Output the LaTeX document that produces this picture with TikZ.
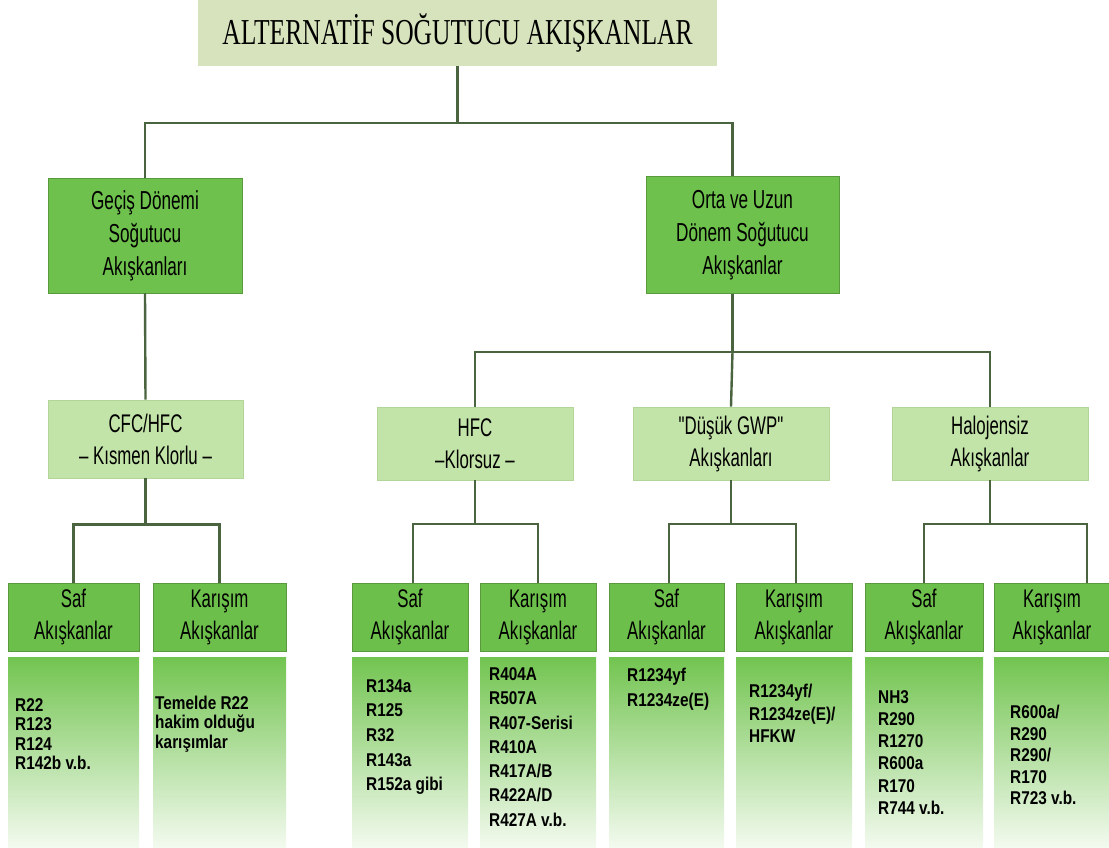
\documentclass[tikz,border=0pt]{standalone}
\usepackage{fontspec}
\setmainfont{Liberation Serif}
\newfontfamily\ttlfont{Liberation Serif}[FakeStretch=0.70]
\newfontfamily\hdfont{Liberation Sans}[FakeStretch=0.66]
\newfontfamily\bdfont{Liberation Sans}[FakeStretch=0.83]
\definecolor{titlefill}{HTML}{D7E3BC}
\definecolor{catfill}{HTML}{6EC14C}
\definecolor{catdraw}{HTML}{5A9A3E}
\definecolor{subfill}{HTML}{C3E4A9}
\definecolor{subdraw}{HTML}{B2D699}
\definecolor{headfill}{HTML}{6DBF4B}
\definecolor{headdraw}{HTML}{5A993D}
\definecolor{bodytop}{HTML}{72C450}
\definecolor{bodybot}{HTML}{F3FAEF}
\definecolor{conncol}{HTML}{4A6440}
\tikzset{
  titlebox/.style={fill=titlefill, inner sep=0pt, minimum width=519pt, minimum height=66pt,
    font=\ttlfont\fontsize{36.5}{40}\selectfont},
  catbox/.style={draw=catdraw, line width=0.8pt, fill=catfill, inner sep=0pt, align=center,
    font=\hdfont\fontsize{26}{33}\selectfont},
  subbox/.style={draw=subdraw, line width=0.6pt, fill=subfill, inner sep=0pt, align=center,
    font=\hdfont\fontsize{25.5}{32}\selectfont},
  leafhead/.style={draw=headdraw, line width=0.8pt, fill=headfill, inner sep=0pt, align=center,
    minimum height=68pt, font=\hdfont\fontsize{25.5}{32}\selectfont},
  leafbody/.style={top color=bodytop, bottom color=bodybot, draw=none, inner sep=0pt,
    minimum height=190pt},
  bodytext/.style={anchor=west, align=left, inner sep=0pt, font=\bdfont\bfseries\fontsize{18.5}{#1}\selectfont},
  conn/.style={draw=conncol, line width=2.4pt}
}
\begin{document}
\begin{tikzpicture}[x=1pt,y=-1pt]
\useasboundingbox (0,0) rectangle (1109,847);
% title
\node[titlebox] (title) at (457.5,33) {ALTERNATİF SOĞUTUCU AKIŞKANLAR};
% level 2
\node[catbox, minimum width=194pt, minimum height=115pt] (g2l) at (145,235.5) {Geçiş Dönemi\\Soğutucu\\Akışkanları};
\node[catbox, minimum width=193pt, minimum height=117pt] (g2r) at (742.5,235) {Orta ve Uzun\\Dönem Soğutucu\\Akışkanlar};
% level 3
\node[subbox, minimum width=195pt, minimum height=78pt] (cfc) at (145.5,439) {CFC/HFC\\– Kısmen Klorlu –};
\node[subbox, minimum width=196pt, minimum height=73pt] (hfc) at (475,443.5) {HFC\\–Klorsuz –};
\node[subbox, minimum width=196pt, minimum height=73pt] (dgwp) at (731,443.5) {"Düşük GWP"\\Akışkanları};
\node[subbox, minimum width=196pt, minimum height=73pt] (halo) at (990,443.5) {Halojensiz\\Akışkanlar};
% leaf headers
\node[leafhead, minimum width=131pt] (lsafh) at (73.5,617) {Saf\\Akışkanlar};
\node[leafhead, minimum width=133pt] (lkarh) at (219.5,617) {Karışım\\Akışkanlar};
\node[leafhead, minimum width=116pt] (hsafh) at (410,617) {Saf\\Akışkanlar};
\node[leafhead, minimum width=116pt] (hkarh) at (538,617) {Karışım\\Akışkanlar};
\node[leafhead, minimum width=115pt] (dsafh) at (666.5,617) {Saf\\Akışkanlar};
\node[leafhead, minimum width=116pt] (dkarh) at (794,617) {Karışım\\Akışkanlar};
\node[leafhead, minimum width=118pt] (hasafh) at (924,617) {Saf\\Akışkanlar};
\node[leafhead, minimum width=116pt] (hakarh) at (1052,617) {Karışım\\Akışkanlar};
% leaf bodies
\node[leafbody, minimum width=131pt] (lsafb) at (73.5,752) {};
\node[leafbody, minimum width=133pt] (lkarb) at (219.5,752) {};
\node[leafbody, minimum width=116pt] (hsafb) at (410,752) {};
\node[leafbody, minimum width=116pt] (hkarb) at (538,752) {};
\node[leafbody, minimum width=115pt] (dsafb) at (666.5,752) {};
\node[leafbody, minimum width=116pt] (dkarb) at (794,752) {};
\node[leafbody, minimum width=118pt] (hasafb) at (924,752) {};
\node[leafbody, minimum width=116pt] (hakarb) at (1052,752) {};
% body texts
\node[bodytext=19.5] (lsaft) at (15,734) {R22\\R123\\R124\\R142b v.b.};
\node[bodytext=19.5] (lkart) at (155,724) {Temelde R22\\hakim olduğu\\karışımlar};
\node[bodytext=24.6] (hsaft) at (366,737) {R134a\\R125\\R32\\R143a\\R152a gibi};
\node[bodytext=24.3] (hkart) at (489,747) {R404A\\R507A\\R407-Serisi\\R410A\\R417A/B\\R422A/D\\R427A v.b.};
\node[bodytext=25] (dsaft) at (627,689) {R1234yf\\R1234ze(E)};
\node[bodytext=22.5] (dkart) at (749,713.5) {R1234yf/\\R1234ze(E)/\\HFKW};
\node[bodytext=22.2] (hasaft) at (878,752.5) {NH3\\R290\\R1270\\R600a\\R170\\R744 v.b.};
\node[bodytext=21.5] (hakart) at (1010,755) {R600a/\\R290\\R290/\\R170\\R723 v.b.};
% connectors
\draw[conn] (title.south) -- ++(0,57) coordinate (j0);
\draw[conn] (g2l.north) |- (j0) -| ([xshift=-10pt]g2r.north);
\draw[conn] (g2l.south) -- (cfc.north);
\coordinate (j2) at (732.5,352);
\draw[conn] ([xshift=-10pt]g2r.south) -- (j2);
\draw[conn] (hfc.north) |- (j2) -| (halo.north);
\draw[conn] (j2) -- (dgwp.north);
\draw[conn] (cfc.south) -- ++(0,46) coordinate (jc);
\draw[conn] (lsafh.north) |- (jc) -| (lkarh.north);
\draw[conn] (hfc.south) -- ++(0,43.5) coordinate (jh);
\draw[conn] ([xshift=3pt]hsafh.north) |- (jh) -| (hkarh.north);
\draw[conn] (dgwp.south) -- ++(0,43.5) coordinate (jd);
\draw[conn] ([xshift=2.5pt]dsafh.north) |- (jd) -| ([xshift=2pt]dkarh.north);
\draw[conn] (halo.south) -- ++(0,43.5) coordinate (jg);
\draw[conn] (hasafh.north) |- (jg) -| ([xshift=35pt]hakarh.north);
\end{tikzpicture}
\end{document}
